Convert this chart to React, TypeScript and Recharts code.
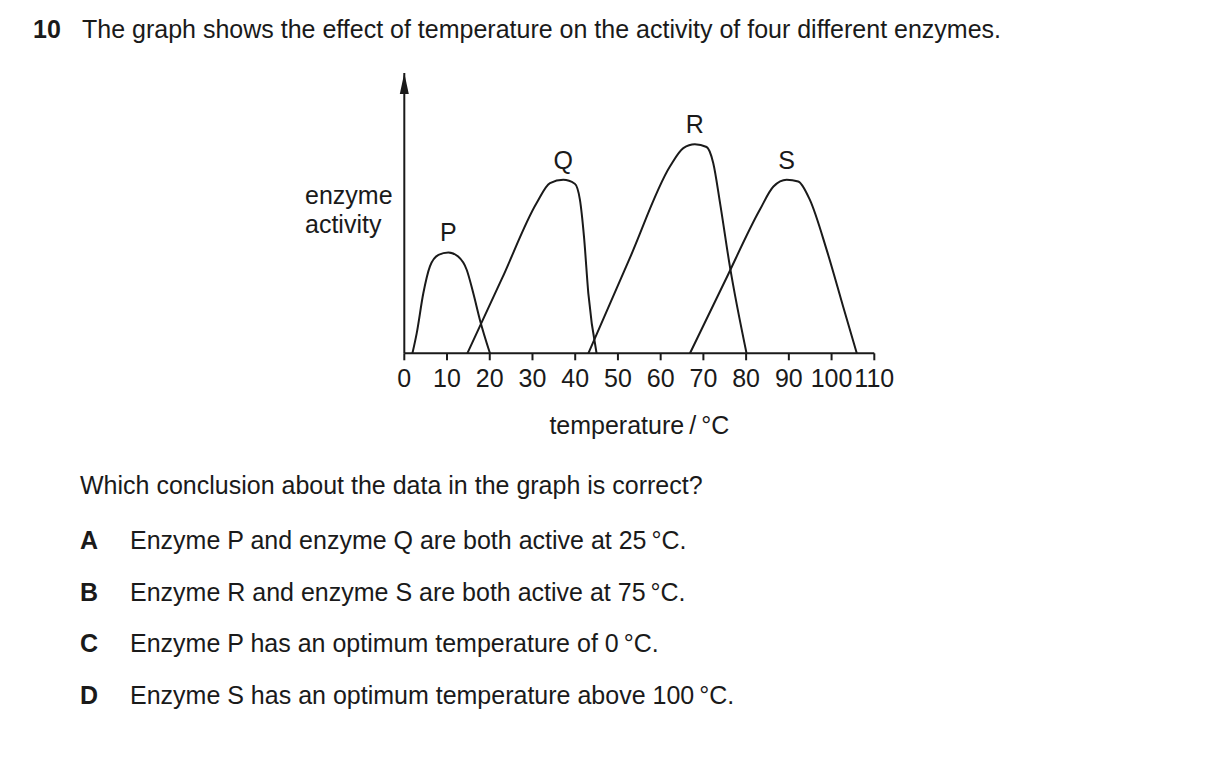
import { LineChart, Line, XAxis, YAxis, ReferenceDot } from "recharts";

// temperature (°C) and enzyme activity (arbitrary units, 0-100 = axis height)
const pTemp = [1.9, 2.9, 4.45, 6.0, 8.0, 10.3, 12.6, 14.6, 16.15, 17.7, 20.05];
const pAct = [0, 7.1, 21.4, 31, 35.1, 36, 34.5, 29.8, 21.4, 11.9, 0];

const qTemp = [14.75, 22.9, 30.97, 34.1, 37.2, 39.9, 41.1, 42.05, 43.07, 45.0];
const qAct = [0, 26.8, 53.6, 60.7, 61.9, 60.5, 54.8, 41.7, 21.4, 0];

const rTemp = [43.07, 52.6, 62.2, 65.3, 68.0, 70.76, 72.3, 73.9, 76.2, 80.1];
const rAct = [0, 33.3, 66.7, 73.2, 74.6, 73.6, 67.9, 53.6, 31, 0];

const sTemp = [66.86, 75.0, 83.2, 86.4, 89.5, 92.2, 94.9, 98.85, 102.7, 105.9];
const sAct = [0, 25.6, 51.2, 59.5, 61.9, 61.3, 54.8, 36.9, 16.7, 0];

const enzymes = ["P", "Q", "R", "S"];
const xTicks = [0, 10, 20, 30, 40, 50, 60, 70, 80, 90, 100, 110];

const options = [
  { letter: "A", text: "Enzyme P and enzyme Q are both active at 25\u2009°C." },
  { letter: "B", text: "Enzyme R and enzyme S are both active at 75\u2009°C." },
  { letter: "C", text: "Enzyme P has an optimum temperature of 0\u2009°C." },
  { letter: "D", text: "Enzyme S has an optimum temperature above 100\u2009°C." },
];

const INK = "#1a1a1a";
const FONT = "'Liberation Sans', Arial, sans-serif";
const FS = 25;

const toRows = (t: number[], a: number[]) => t.map((x, i) => ({ t: x, a: a[i] }));
const series = [toRows(pTemp, pAct), toRows(qTemp, qAct), toRows(rTemp, rAct), toRows(sTemp, sAct)];

function peak(rows: { t: number; a: number }[]) {
  return rows.reduce((m, r) => (r.a > m.a ? r : m), rows[0]);
}

// arrow head on top of the activity axis
function ArrowHead(props: any) {
  const { cx, cy } = props;
  if (cx == null || cy == null) return null;
  return <polygon points={`${cx},${cy} ${cx - 4.5},${cy + 21} ${cx + 4.5},${cy + 21}`} fill={INK} />;
}

export default function App() {
  return (
    <div
      style={{
        position: "absolute",
        left: 0,
        top: 0,
        width: 1209,
        height: 759,
        background: "#fff",
        color: INK,
        fontFamily: FONT,
        fontSize: FS,
      }}
    >
      <div style={{ position: "absolute", left: 33, top: 14, lineHeight: "30px", whiteSpace: "nowrap" }}>
        <b>10</b>
        <span style={{ position: "absolute", left: 49 }}>
          The graph shows the effect of temperature on the activity of four different enzymes.
        </span>
      </div>

      <div style={{ position: "absolute", left: 305, top: 181, lineHeight: "29px" }}>
        <div>enzyme</div>
        <div>activity</div>
      </div>

      <div style={{ position: "absolute", left: 0, top: 0 }}>
        <LineChart
          width={1209}
          height={460}
          margin={{ top: 73, right: 334.7, bottom: 16.7, left: 394.3 }}
        >
          <XAxis
            type="number"
            dataKey="t"
            domain={[0, 110]}
            ticks={xTicks}
            interval={0}
            height={90}
            stroke={INK}
            strokeWidth={2}
            tickSize={7}
            tickMargin={9}
            tick={{ fill: INK, fontSize: FS, fontFamily: FONT }}
            label={{
              value: "temperature\u2009/\u2009°C",
              position: "insideBottom",
              offset: 9,
              fill: INK,
              fontSize: FS,
              fontFamily: FONT,
            }}
          />
          <YAxis
            type="number"
            domain={[0, 100]}
            width={10}
            tick={false}
            tickLine={false}
            axisLine={{ stroke: INK, strokeWidth: 2 }}
          />
          {series.map((rows, i) => (
            <Line
              key={enzymes[i]}
              data={rows}
              dataKey="a"
              type="monotone"
              stroke={INK}
              strokeWidth={2}
              dot={false}
              activeDot={false}
              isAnimationActive={false}
            />
          ))}
          {series.map((rows, i) => {
            const p = peak(rows);
            return (
              <ReferenceDot
                key={"lbl" + enzymes[i]}
                x={p.t}
                y={p.a}
                r={0}
                stroke="none"
                fill="none"
                label={{
                  value: enzymes[i],
                  position: "top",
                  offset: 11,
                  fill: INK,
                  fontSize: FS,
                  fontFamily: FONT,
                }}
              />
            );
          })}
          <ReferenceDot x={0} y={100} r={0} ifOverflow="visible" shape={ArrowHead} />
        </LineChart>
      </div>

      <div style={{ position: "absolute", left: 80, top: 470, lineHeight: "30px", whiteSpace: "nowrap" }}>
        Which conclusion about the data in the graph is correct?
      </div>
      {options.map((o, i) => (
        <div
          key={o.letter}
          style={{
            position: "absolute",
            left: 80,
            top: 525 + [0, 52, 103, 155][i],
            lineHeight: "30px",
            whiteSpace: "nowrap",
          }}
        >
          <b>{o.letter}</b>
          <span style={{ position: "absolute", left: 50 }}>{o.text}</span>
        </div>
      ))}
    </div>
  );
}
